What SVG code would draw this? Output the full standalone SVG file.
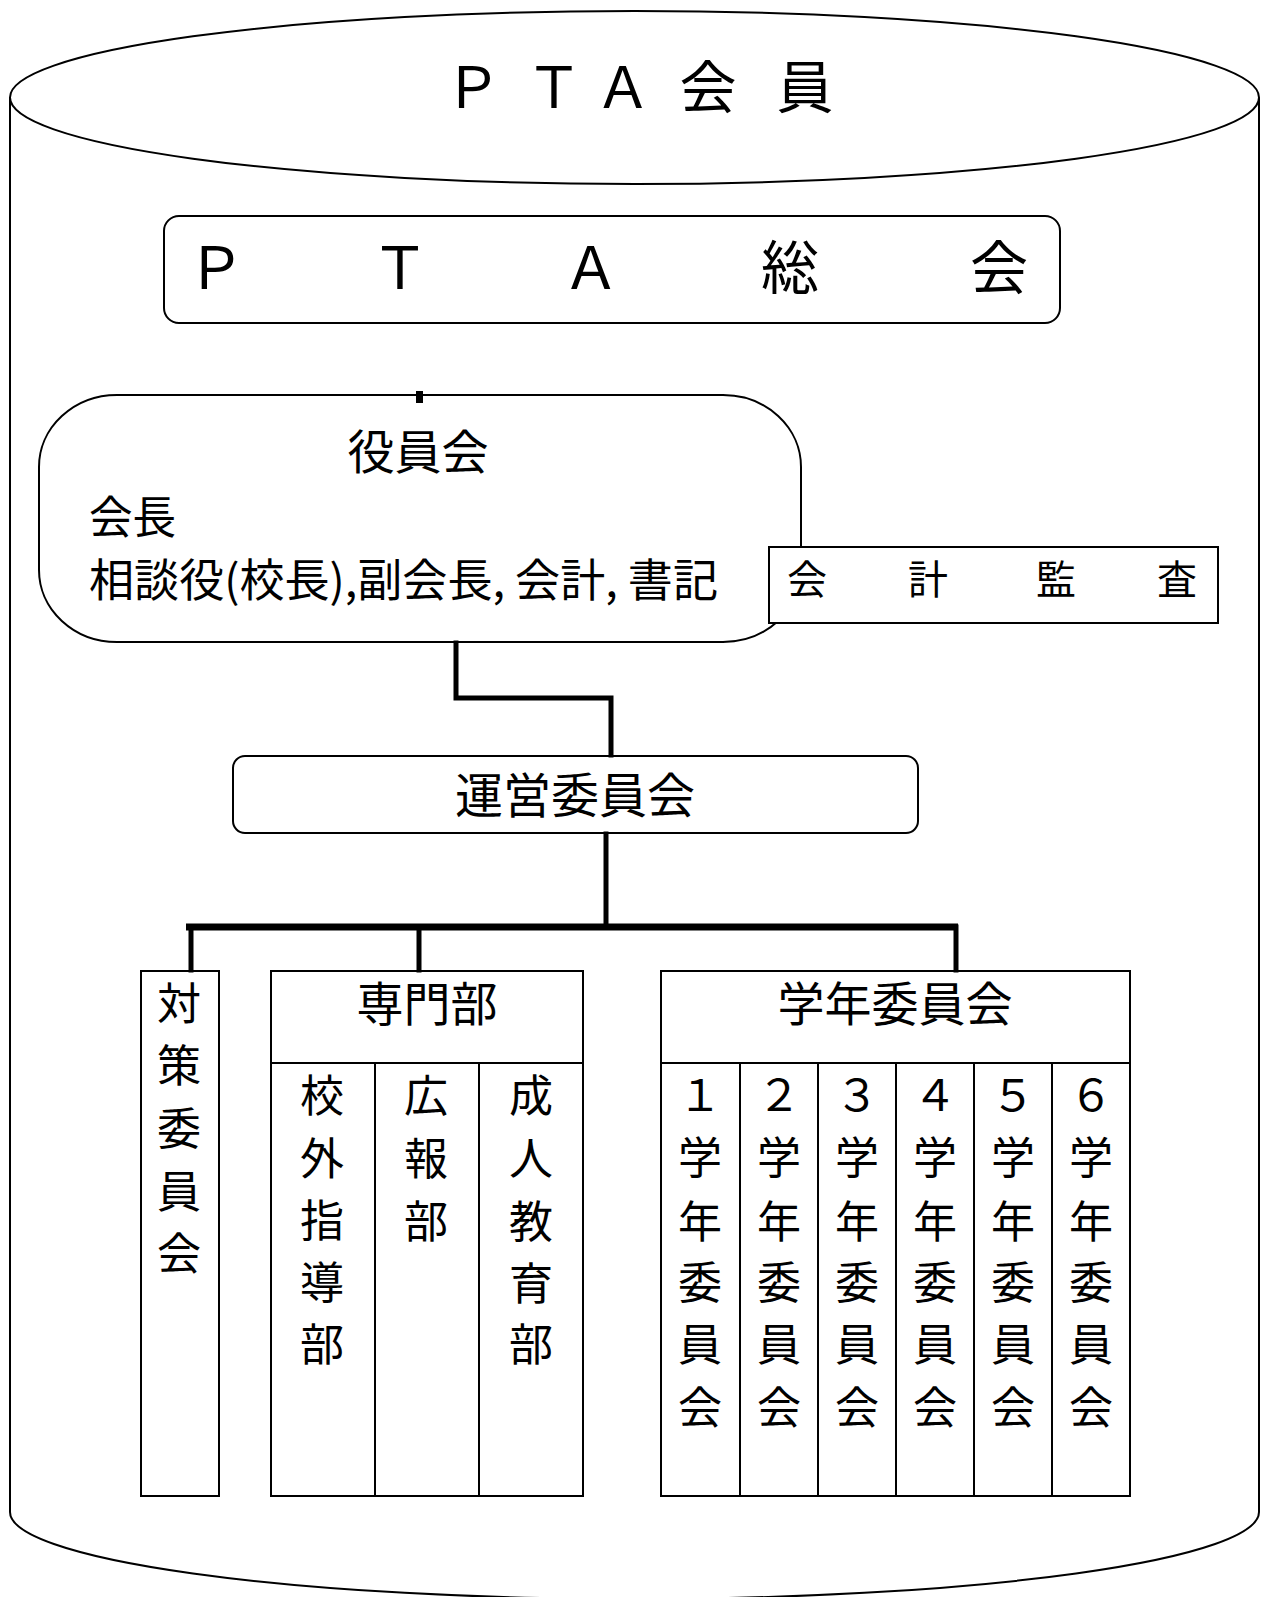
<svg xmlns="http://www.w3.org/2000/svg" width="1269" height="1597" viewBox="0 0 1269 1597">
<style>
.ln{fill:none;stroke:#000;stroke-width:2}
.bx{fill:#fff;stroke:#000;stroke-width:2}
.cn{fill:none;stroke:#000;stroke-width:5;stroke-linecap:square}
.t{font-family:"Noto Sans CJK JP","Noto Sans",sans-serif;fill:#000;text-anchor:middle}
</style>
<rect width="1269" height="1597" fill="#fff"/>
<g id="pta-members">
<path class="ln" d="M10,97.5 L10,1512 A624.5,87 0 0 0 1259,1512 L1259,97.5"/>
<ellipse class="ln" cx="634.5" cy="97.5" rx="624.5" ry="86.5"/>
<text class="t" font-size="57" x="473 554 623 708 805" y="108">ＰＴＡ会員</text>
</g>
<g id="general-meeting">
<rect class="bx" x="164" y="216" width="896" height="107" rx="15"/>
<text class="t" font-size="58" x="216 400 591 790 999" y="289">ＰＴＡ総会</text>
</g>
<g id="officers">
<rect class="bx" x="39" y="395" width="762" height="247" rx="78" ry="72"/>
<text class="t" font-size="47" x="418" y="469">役員会</text>
<text class="t" font-size="45" x="89" y="534" style="text-anchor:start" textLength="87" lengthAdjust="spacingAndGlyphs">会長</text>
<text class="t" font-size="45" x="89" y="597" style="text-anchor:start" textLength="629" lengthAdjust="spacingAndGlyphs">相談役(校長),副会長, 会計, 書記</text>
</g>
<g id="audit">
<rect class="bx" x="769" y="547" width="449" height="76"/>
<text class="t" font-size="40" x="807 928 1056 1177" y="594">会計監査</text>
</g>
<g id="steering">
<rect class="bx" x="233" y="756" width="685" height="77" rx="12"/>
<text class="t" font-size="48" x="575" y="813">運営委員会</text>
</g>
<g id="taisaku">
<rect class="bx" x="141" y="971" width="78" height="525"/>
<text class="t" font-size="44"><tspan x="179" y="1020">対</tspan><tspan x="179" y="1082">策</tspan><tspan x="179" y="1145">委</tspan><tspan x="179" y="1208">員</tspan><tspan x="179" y="1270">会</tspan></text>
</g>
<g id="senmonbu">
<rect class="bx" x="271" y="971" width="312" height="525"/>
<line class="ln" x1="271" y1="1063" x2="583" y2="1063"/>
<line class="ln" x1="375" y1="1063" x2="375" y2="1496"/>
<line class="ln" x1="479" y1="1063" x2="479" y2="1496"/>
<text class="t" font-size="47" x="427" y="1021">専門部</text>
<text class="t" font-size="44"><tspan x="322" y="1112">校</tspan><tspan x="322" y="1175">外</tspan><tspan x="322" y="1237">指</tspan><tspan x="322" y="1299">導</tspan><tspan x="322" y="1361">部</tspan></text>
<text class="t" font-size="44"><tspan x="426" y="1112">広</tspan><tspan x="426" y="1175">報</tspan><tspan x="426" y="1238">部</tspan></text>
<text class="t" font-size="44"><tspan x="531" y="1112">成</tspan><tspan x="531" y="1175">人</tspan><tspan x="531" y="1238">教</tspan><tspan x="531" y="1300">育</tspan><tspan x="531" y="1361">部</tspan></text>
</g>
<g id="gakunen">
<rect class="bx" x="661" y="971" width="469" height="525"/>
<line class="ln" x1="661" y1="1063" x2="1130" y2="1063"/>
<line class="ln" x1="740" y1="1063" x2="740" y2="1496"/>
<line class="ln" x1="818" y1="1063" x2="818" y2="1496"/>
<line class="ln" x1="896" y1="1063" x2="896" y2="1496"/>
<line class="ln" x1="974" y1="1063" x2="974" y2="1496"/>
<line class="ln" x1="1052" y1="1063" x2="1052" y2="1496"/>
<text class="t" font-size="47" x="895" y="1021">学年委員会</text>
<text class="t" font-size="44" x="700 779 857 935 1013 1091" y="1111">１２３４５６</text>
<text class="t" font-size="44" x="700 779 857 935 1013 1091" y="1174">学学学学学学</text>
<text class="t" font-size="44" x="700 779 857 935 1013 1091" y="1238">年年年年年年</text>
<text class="t" font-size="44" x="700 779 857 935 1013 1091" y="1299">委委委委委委</text>
<text class="t" font-size="44" x="700 779 857 935 1013 1091" y="1361">員員員員員員</text>
<text class="t" font-size="44" x="700 779 857 935 1013 1091" y="1424">会会会会会会</text>
</g>
<g id="connectors">
<rect x="416" y="391" width="7" height="12" fill="#000"/>
<polyline class="cn" points="456,643 456,698 611,698 611,755"/>
<line class="cn" x1="606" y1="834" x2="606" y2="927"/>
<line x1="186" y1="927" x2="958" y2="927" stroke="#000" stroke-width="7"/>
<line class="cn" x1="191" y1="927" x2="191" y2="970"/>
<line class="cn" x1="419" y1="927" x2="419" y2="970"/>
<line class="cn" x1="956" y1="927" x2="956" y2="970"/>
</g>
</svg>
